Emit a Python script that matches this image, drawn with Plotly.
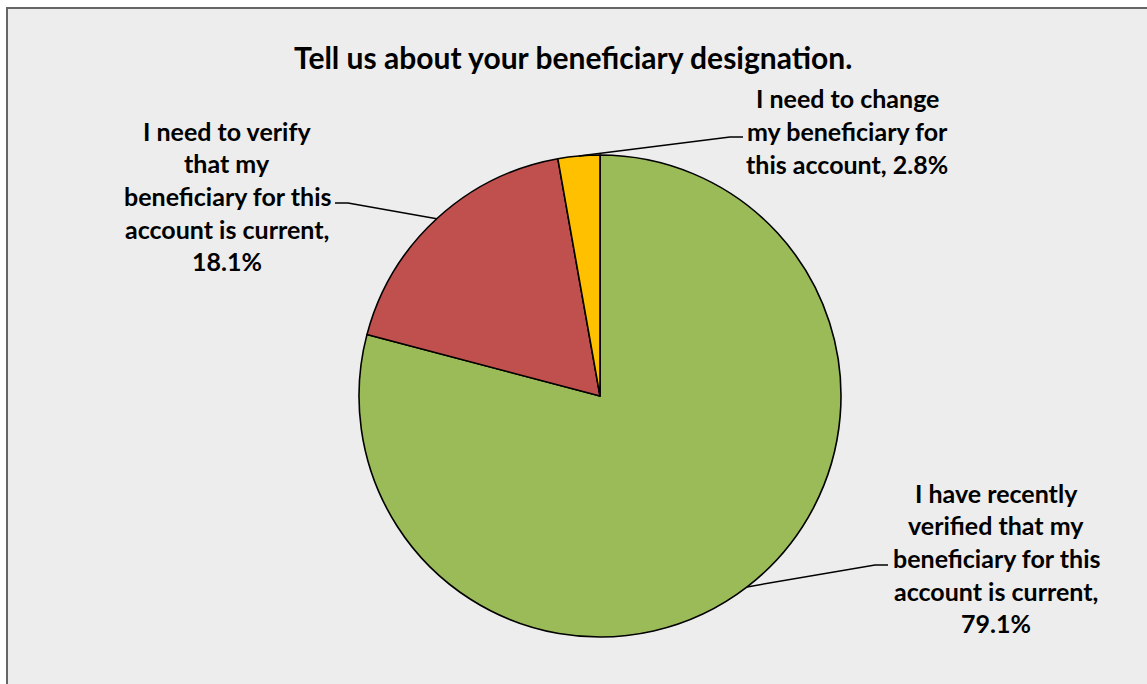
import math
import plotly.graph_objects as go

# Survey responses (share of respondents, %)
labels = [
    "I have recently verified that my beneficiary for this account is current",
    "I need to verify that my beneficiary for this account is current",
    "I need to change my beneficiary for this account",
]
values = [79.1, 18.1, 2.8]
colors = ["#9BBB59", "#C0504D", "#FFC000"]

# Wrapped label lines (value appended on the last line)
label_lines = [
    ["I have recently", "verified that my", "beneficiary for this", "account is current,", "{v:.1f}%"],
    ["I need to verify", "that my", "beneficiary for this", "account is current,", "{v:.1f}%"],
    ["I need to change", "my beneficiary for", "this account, {v:.1f}%"],
]

title = "Tell us about your beneficiary designation."

W, H = 1147, 684
CX, CY, R = 600, 396, 241          # pie centre and radius in pixels
FONT = "Lato, 'Open Sans', sans-serif"
LINE_H = 32.6

# label placement: (text centre x, text centre y, elbow x, line end x, line y)
label_layout = [
    (996, 558, 875, 888, 565),
    (227, 196, 348, 335, 203),
    (847, 131, 730, 743, 137),
]


def px(x):
    return x / W


def py(y):
    return 1 - y / H


fig = go.Figure(
    go.Pie(
        labels=labels,
        values=values,
        sort=False,
        direction="clockwise",
        rotation=0,
        marker=dict(colors=colors, line=dict(color="#000000", width=1.6)),
        textinfo="none",
        hoverinfo="label+percent",
        showlegend=False,
        domain=dict(x=[px(CX - R), px(CX + R)], y=[py(CY + R), py(CY - R)]),
    )
)

shapes = [
    # chart area with its frame
    dict(type="rect", xref="paper", yref="paper", layer="below",
         x0=px(7), x1=px(W + 20), y0=py(H + 20), y1=py(8),
         fillcolor="#EDEDED", line=dict(color="#666666", width=2)),
]
annotations = [
    dict(text="<b>%s</b>" % title, x=px(573), y=py(57), xref="paper", yref="paper",
         showarrow=False, xanchor="center", yanchor="middle",
         font=dict(family=FONT, size=30, color="#000000")),
]

total = sum(values)
cum = 0.0
for val, lines, (tx, ty, ex, lx, ly) in zip(values, label_lines, label_layout):
    mid = (cum + val / 2) / total * 2 * math.pi
    cum += val
    # point on the rim at the slice's mid angle (clockwise from 12 o'clock)
    ax_ = CX + R * math.sin(mid)
    ay_ = CY - R * math.cos(mid)
    shapes.append(dict(
        type="path", xref="paper", yref="paper",
        path="M %f %f L %f %f L %f %f" % (px(ax_), py(ay_), px(ex), py(ly), px(lx), py(ly)),
        line=dict(color="#000000", width=1.5),
    ))
    n = len(lines)
    for i, line in enumerate(lines):
        yy = ty + (i - (n - 1) / 2) * LINE_H
        annotations.append(dict(
            text="<b>%s</b>" % line.format(v=val), x=px(tx), y=py(yy),
            xref="paper", yref="paper", showarrow=False,
            xanchor="center", yanchor="middle",
            font=dict(family=FONT, size=25, color="#000000"),
        ))

fig.update_layout(
    width=W, height=H,
    margin=dict(l=0, r=0, t=0, b=0),
    paper_bgcolor="#FFFFFF",
    shapes=shapes,
    annotations=annotations,
)

fig.write_html("out.html", config={"displayModeBar": False})
